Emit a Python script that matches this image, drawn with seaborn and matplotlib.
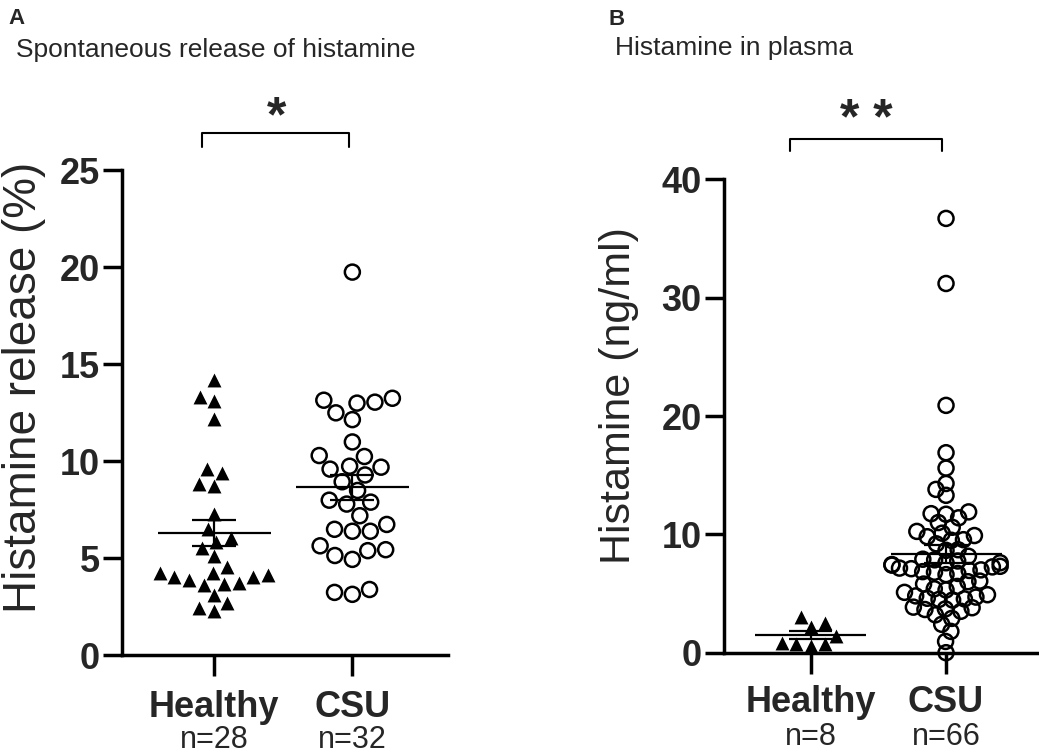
import numpy as np
import pandas as pd
import matplotlib
matplotlib.use("Agg")
import matplotlib.pyplot as plt
import seaborn as sns

groups = ["Healthy", "CSU"]

# Panel A: spontaneous release of histamine (%)
release_healthy = [14.2, 13.3, 13.1, 12.2, 9.4, 8.75, 8.85, 9.6, 7.3, 6.5, 5.85, 6.05, 5.1, 5.55,
                   4.25, 4.15, 4.05, 3.75, 3.65, 3.7, 3.9, 4.05, 4.25, 4.55, 2.7, 2.3, 2.45, 3.1]
release_csu = [19.75, 13.15, 13.0, 12.15, 12.5, 13.05, 13.25, 11.0, 10.25, 10.3, 9.75, 9.6, 9.3, 9.7,
               8.95, 8.5, 8.0, 7.8, 7.9, 7.2, 6.5, 6.4, 6.4, 6.75, 5.65, 5.4, 4.95, 5.15, 5.45,
               3.4, 3.15, 3.25]
n_labels_a = ["n=28", "n=32"]

# Panel B: histamine in plasma (ng/ml)
plasma_healthy = [3.05, 2.2, 2.5, 1.45, 0.7, 0.55, 0.7, 0.8]
plasma_csu = [36.7, 31.2, 20.9, 16.9, 15.6, 14.3, 13.8, 13.3,
              11.9, 11.75, 11.4, 11.7, 11.0, 10.6, 10.1, 10.25,
              9.8, 9.5, 9.9, 9.55, 8.7, 8.15, 8.65, 9.2,
              7.9, 7.75, 7.6, 7.45, 7.3, 7.15, 7.0, 6.85, 6.7, 6.6, 6.8, 6.95, 7.1, 7.25, 7.4, 7.6, 7.85,
              6.0, 5.6, 5.1, 4.7, 4.5, 4.45, 4.55, 4.9, 5.4, 6.05, 5.8, 5.3, 4.8, 4.6,
              3.8, 3.65, 3.2, 2.4, 2.9, 3.5, 3.7, 3.85,
              1.8, 0.95, 0.0]
n_labels_b = ["n=8", "n=66"]

sns.set_style("ticks")
plt.rcParams["font.family"] = ["Liberation Sans", "DejaVu Sans"]

fig = plt.figure(figsize=(10.39, 7.53), dpi=100)
ax_a = fig.add_axes([0.1174, 0.1295, 0.3138, 0.6445])
ax_b = fig.add_axes([0.6968, 0.1332, 0.3032, 0.6286])

swarms = []


def draw_panel(ax, healthy, csu, layout_sizes, ymax, ystep, xlim, ylabel, ylabel_size, nlabels, xpad):
    df = pd.DataFrame({"group": ["Healthy"] * len(healthy) + ["CSU"] * len(csu),
                       "value": healthy + csu})
    k = len(ax.collections)
    sns.swarmplot(data=df[df["group"] == "Healthy"], x="group", y="value", order=groups,
                  marker="^", color="black", linewidth=0, size=layout_sizes[0], ax=ax, zorder=3)
    tri = list(ax.collections[k:])
    k = len(ax.collections)
    sns.swarmplot(data=df[df["group"] == "CSU"], x="group", y="value", order=groups,
                  marker="o", color="white", edgecolor="black", linewidth=1.8,
                  size=layout_sizes[1], ax=ax, zorder=3)
    circ = list(ax.collections[k:])
    for c in circ:
        c.set_facecolor("none")
    # drop empty collections made for the missing category
    for c in tri + circ:
        if len(c.get_offsets()) == 0:
            c.remove()
    swarms.extend([(c, 10.0) for c in tri if c.axes is not None])
    swarms.extend([(c, 10.8) for c in circ if c.axes is not None])

    # mean +/- SEM
    for i, vals in enumerate([healthy, csu]):
        v = np.array(vals)
        m = v.mean()
        se = v.std(ddof=1) / np.sqrt(len(v))
        ax.hlines(m, i - 0.41, i + 0.41, color="black", lw=1.6, zorder=5)
        ax.hlines([m - se, m + se], i - 0.16, i + 0.16, color="black", lw=1.6, zorder=5)
        ax.vlines(i, m - se, m + se, color="black", lw=1.6, zorder=5)

    ax.set_xlim(*xlim)
    ax.set_ylim(0, ymax)
    ax.set_yticks(np.arange(0, ymax + 0.1, ystep))
    ax.set_xticks([0, 1])
    ax.set_xticklabels(groups, fontsize=26, fontweight="bold")
    for t in ax.get_yticklabels():
        t.set_fontweight("bold")
    ax.tick_params(axis="y", length=14, width=2.5, labelsize=26, pad=2, color="black")
    ax.tick_params(axis="x", length=15, width=2.5, pad=xpad, color="black")
    sns.despine(ax=ax)
    for s in ["left", "bottom"]:
        ax.spines[s].set_linewidth(2.5)
        ax.spines[s].set_color("black")
    ax.set_xlabel("")
    ax.set_ylabel(ylabel, fontsize=ylabel_size)
    for i, n in enumerate(nlabels):
        ax.annotate(n, xy=(i, 0), xycoords=("data", "axes fraction"), xytext=(0, -50),
                    textcoords="offset points", ha="center", va="top", fontsize=22)


draw_panel(ax_a, release_healthy, release_csu, (10.5, 10.5), 25, 5, (-0.669, 1.693),
           "Histamine release (%)", 33, n_labels_a, 10)
draw_panel(ax_b, plasma_healthy, plasma_csu, (10.0, 6.3), 40, 10, (-0.641, 1.687),
           "Histamine (ng/ml)", 31, n_labels_b, 8)
ax_a.yaxis.set_label_coords(-0.232, 0.553)
ax_b.yaxis.set_label_coords(-0.27, 0.543)

# significance brackets
ax_a.plot([-0.09, -0.09, 0.976, 0.976], [26.2, 26.9, 26.9, 26.2], color="black", lw=1.5, clip_on=False)
ax_a.text(0.45, 27.0, "*", ha="center", va="baseline", fontsize=36, fontweight="bold")
ax_b.plot([-0.153, -0.153, 0.968, 0.968], [42.4, 43.4, 43.4, 42.4], color="black", lw=1.5, clip_on=False)
ax_b.text(0.414, 43.8, "* *", ha="center", va="baseline", fontsize=36, fontweight="bold")

# panel titles
fig.text(8 / 1039, 1 - 24 / 753, "A", fontsize=16, fontweight="bold")
fig.text(16 / 1039, 1 - 57 / 753, "Spontaneous release of histamine", fontsize=19)
fig.text(609 / 1039, 1 - 25 / 753, "B", fontsize=16, fontweight="bold")
fig.text(615 / 1039, 1 - 55 / 753, "Histamine in plasma", fontsize=19)

# lay out the swarms, then freeze positions and draw markers at full size
fig.canvas.draw()
for coll, ms in swarms:
    coll.__dict__.pop("draw", None)
    coll.set_sizes([ms ** 2])
    coll.set_clip_on(False)

fig.savefig("out.png", dpi=100)
